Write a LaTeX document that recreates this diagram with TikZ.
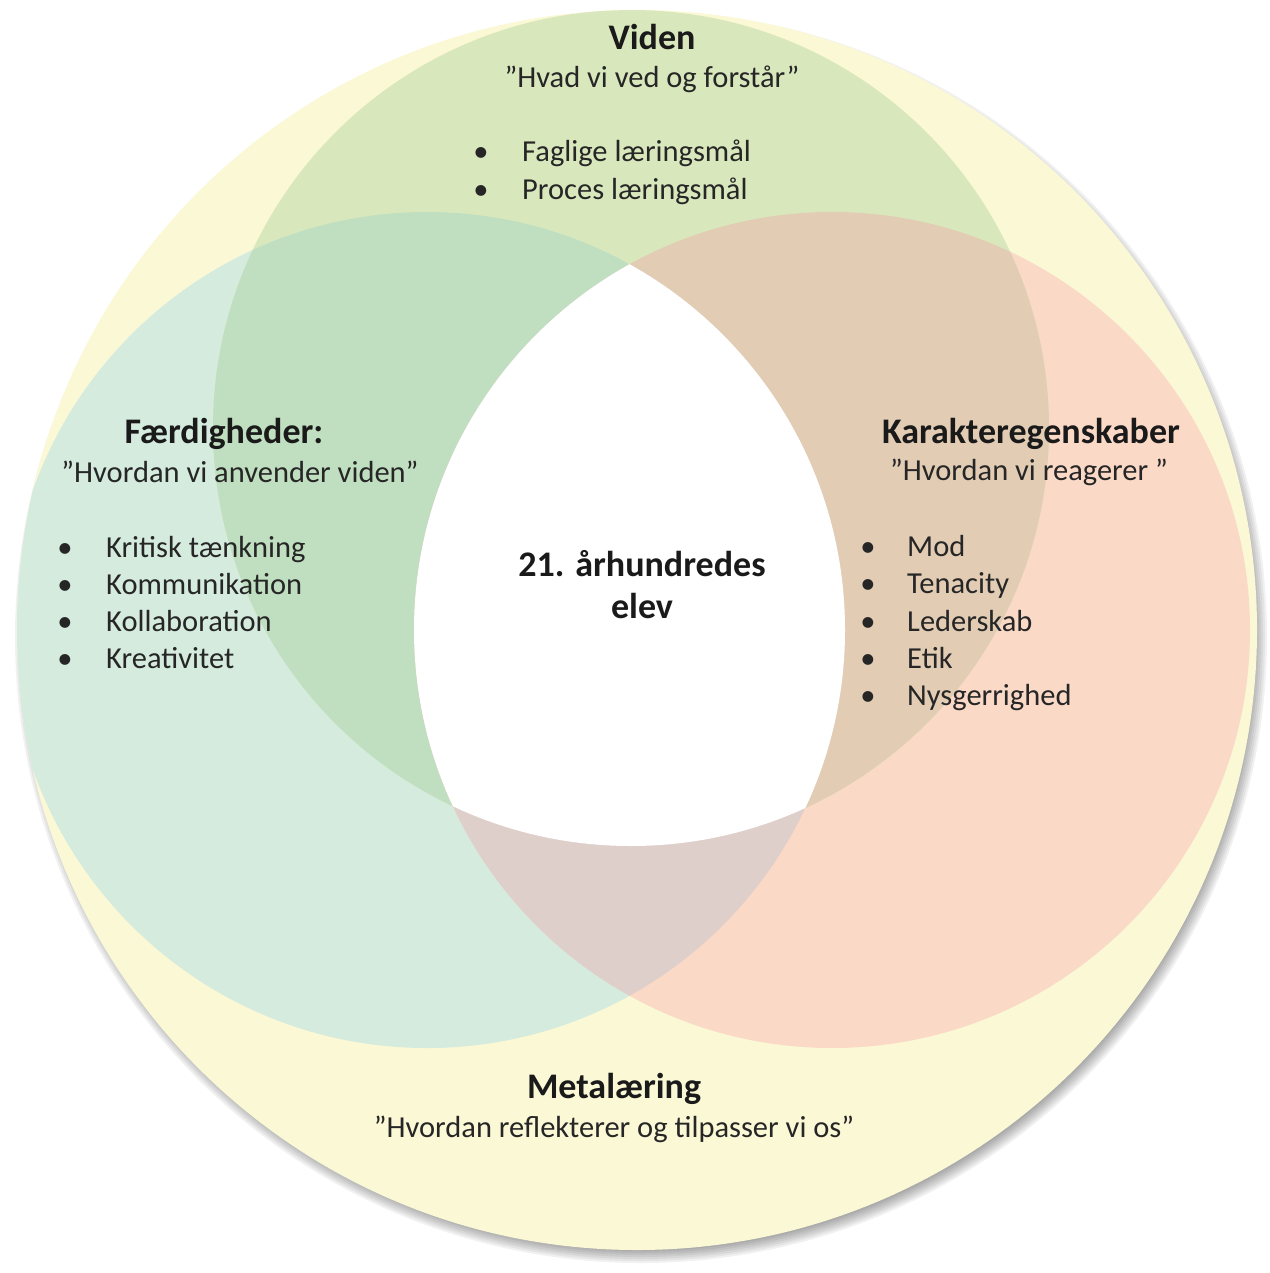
\documentclass[tikz,border=0pt]{standalone}
\usepackage{fontspec}
\setmainfont{Carlito}
\definecolor{yel}{HTML}{FBF8D5}
\definecolor{grn}{HTML}{D9E8BC}
\definecolor{teal}{HTML}{D4EBDE}
\definecolor{salm}{HTML}{FAD9C7}
\definecolor{gt}{HTML}{C0DFC0}
\definecolor{gs}{HTML}{E2CDB4}
\definecolor{ts}{HTML}{DFCFCB}
\definecolor{txtc}{HTML}{262626}
\definecolor{ttlc}{HTML}{1A1A1A}
\begin{document}
\begin{tikzpicture}[x=1pt,y=-1pt,
  txt/.style={font=\fontsize{30.5}{36}\selectfont, text=txtc, inner sep=0pt, anchor=base},
  ttl/.style={font=\fontsize{36}{42}\selectfont\bfseries, text=ttlc, inner sep=0pt, anchor=base},
  item/.style={txt, anchor=base west},
  bul/.style={txt, anchor=base}]
\useasboundingbox (0,0) rectangle (1269,1273);
\coordinate (O) at (637,630);
\coordinate (G) at (631,428);
\coordinate (T) at (427,630);
\coordinate (S) at (832,630);
\coordinate (Sh) at (641,637);
% shadow
\foreach \i in {0,...,7}{
  \fill[black, opacity=0.055] (Sh) circle[radius=612pt+2*\i pt];
}
% outer circle
\fill[yel] (O) circle[radius=620pt];
\begin{scope}
  \clip (O) circle[radius=620pt];
  \fill[teal] (T) circle[radius=418pt];
  \fill[salm] (S) circle[radius=418pt];
  \fill[grn] (G) circle[radius=418pt];
  \begin{scope}
    \clip (G) circle[radius=418pt];
    \fill[gt] (T) circle[radius=418pt];
    \fill[gs] (S) circle[radius=418pt];
  \end{scope}
  \begin{scope}
    \clip (T) circle[radius=418pt];
    \fill[ts] (S) circle[radius=418pt];
    \clip (S) circle[radius=418pt];
    \fill[white] (G) circle[radius=418pt];
  \end{scope}
\end{scope}
% Viden
\node[ttl] (viden) at (652,50) {Viden};
\node[txt] (videnq) at (652,88) {”Hvad vi ved og forstår”};
\node[bul] (vb1) at (481,162) {•};
\node[item] (vi1) at (522,162) {Faglige læringsmål};
\node[bul] (vb2) at (481,200) {•};
\node[item] (vi2) at (522,200) {Proces læringsmål};
% Faerdigheder
\node[ttl] (faerd) at (224,443) {Færdigheder:};
\node[txt] (faerdq) at (240,482) {”Hvordan vi anvender viden”};
\node[bul] (fb1) at (65,557) {•};
\node[item] (fi1) at (106,557) {Kritisk tænkning};
\node[bul] (fb2) at (65,594) {•};
\node[item] (fi2) at (106,594) {Kommunikation};
\node[bul] (fb3) at (65,631) {•};
\node[item] (fi3) at (106,631) {Kollaboration};
\node[bul] (fb4) at (65,668) {•};
\node[item] (fi4) at (106,668) {Kreativitet};
% Karakteregenskaber
\node[ttl] (kar) at (1031,443) {Karakteregenskaber};
\node[txt] (karq) at (1029,480) {”Hvordan vi reagerer ”};
\node[bul] (kb1) at (868,556) {•};
\node[item] (ki1) at (907,556) {Mod};
\node[bul] (kb2) at (868,593) {•};
\node[item] (ki2) at (907,593) {Tenacity};
\node[bul] (kb3) at (868,631) {•};
\node[item] (ki3) at (907,631) {Lederskab};
\node[bul] (kb4) at (868,668) {•};
\node[item] (ki4) at (907,668) {Etik};
\node[bul] (kb5) at (868,705) {•};
\node[item] (ki5) at (907,705) {Nysgerrighed};
% center
\node[ttl] (c1) at (642,576) {21. århundredes};
\node[ttl] (c2) at (642,618) {elev};
% Metalaering
\node[ttl] (meta) at (614,1098) {Metalæring};
\node[txt] (metaq) at (614,1137) {”Hvordan reflekterer og tilpasser vi os”};
\end{tikzpicture}
\end{document}
